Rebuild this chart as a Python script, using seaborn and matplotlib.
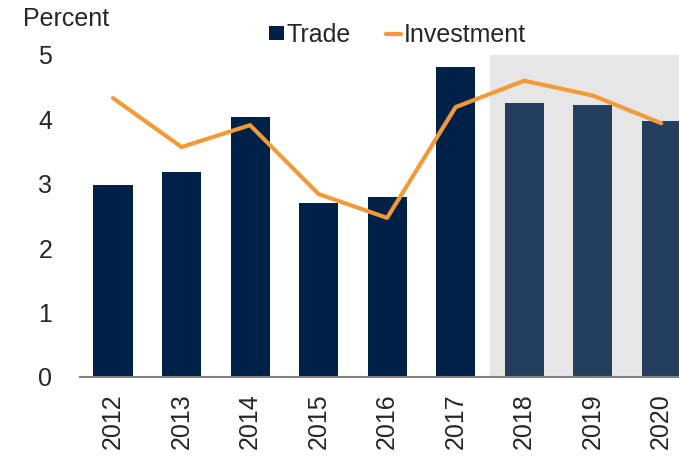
import pandas as pd
import seaborn as sns
import matplotlib.pyplot as plt
from matplotlib.patches import Patch
from matplotlib.lines import Line2D

# Values
years = ['2012', '2013', '2014', '2015', '2016', '2017', '2018', '2019', '2020']
trade = [2.98, 3.18, 4.03, 2.70, 2.79, 4.81, 4.25, 4.22, 3.97]
investment = [4.33, 3.57, 3.91, 2.84, 2.47, 4.19, 4.60, 4.37, 3.94]
phase = ['actual'] * 6 + ['forecast'] * 3

df = pd.DataFrame({'year': years, 'trade': trade, 'investment': investment, 'phase': phase})

sns.set_style('white')
plt.rcParams['font.family'] = ['Liberation Sans', 'DejaVu Sans']

fig = plt.figure(figsize=(6.79, 4.58), dpi=100)
ax = fig.add_axes([0.118, 0.177, 0.882, 0.703])

# Shaded forecast period
ax.axvspan(5.5, 9, color='#e6e6e6', zorder=0, lw=0)

sns.barplot(data=df, x='year', y='trade', hue='phase', dodge=False,
            palette={'actual': '#002147', 'forecast': '#243f5e'},
            saturation=1, linewidth=0, width=0.57, legend=False,
            ax=ax, zorder=2)
ax.plot(range(len(years)), df['investment'], color='#f29a38', lw=3, zorder=3)

ax.set_xlim(-0.48, 8.26)
ax.set_ylim(0, 5)
ax.set_yticks(range(6))
ax.tick_params(axis='y', labelsize=18, length=0, pad=20)
ax.tick_params(axis='x', labelsize=18, length=0, rotation=90, pad=12)
ax.set_xlabel('')
ax.set_ylabel('')
for s in ['top', 'right', 'left']:
    ax.spines[s].set_visible(False)
ax.spines['bottom'].set_color('#808080')
ax.spines['bottom'].set_linewidth(1.5)

fig.text(0.034, 0.958, 'Percent', fontsize=18, va='center', ha='left')

handles = [Patch(facecolor='#002147', edgecolor='none'),
           Line2D([0], [0], color='#f29a38', lw=3)]
ax.legend(handles, ['Trade', 'Investment'], ncol=2, frameon=False,
          fontsize=18, loc='center', bbox_to_anchor=(0.53, 1.063),
          handlelength=0.6, handleheight=0.5, handletextpad=0.1,
          columnspacing=1.4, borderpad=0)

fig.savefig('out.png', dpi=100)
